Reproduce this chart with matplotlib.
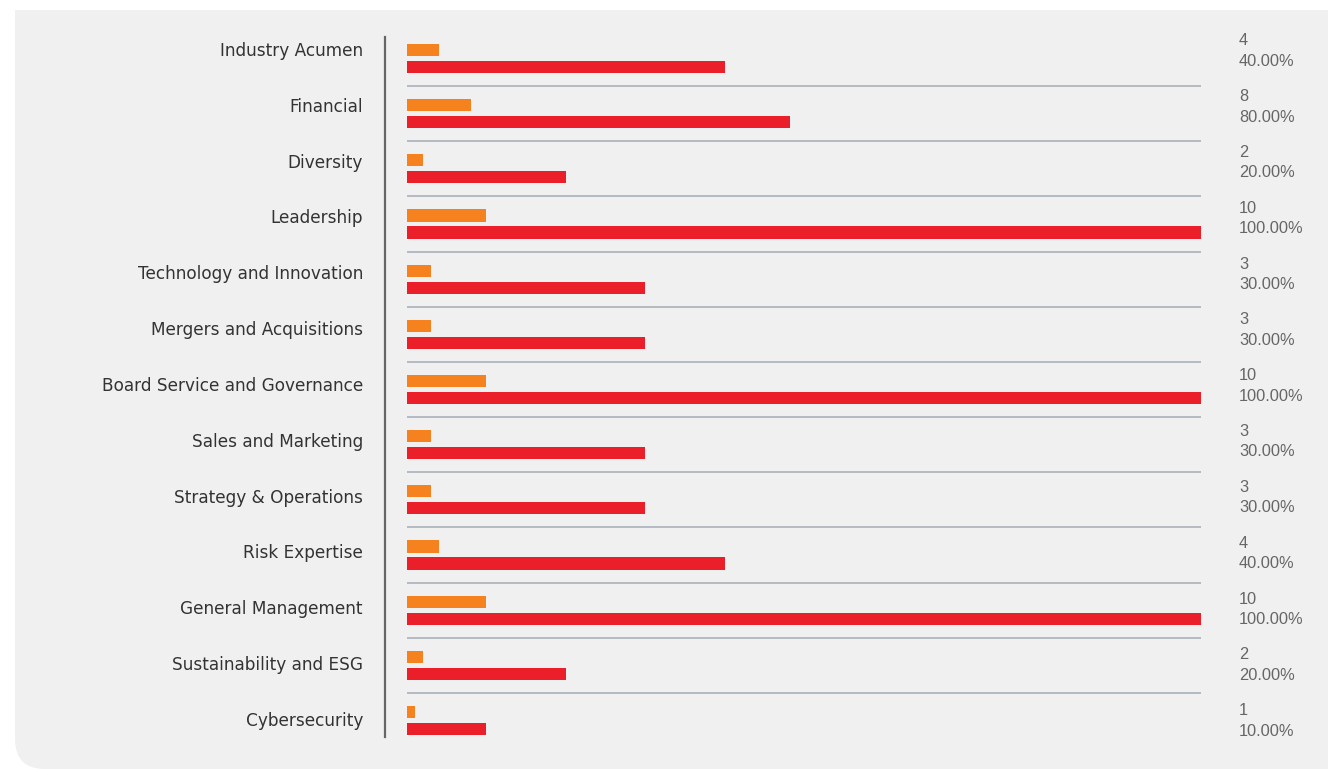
import matplotlib.pyplot as plt
from matplotlib.patches import FancyBboxPatch, Rectangle

# donnees
categories = ["Industry Acumen", "Financial", "Diversity", "Leadership",
              "Technology and Innovation", "Mergers and Acquisitions",
              "Board Service and Governance", "Sales and Marketing",
              "Strategy & Operations", "Risk Expertise", "General Management",
              "Sustainability and ESG", "Cybersecurity"]
counts = [4, 8, 2, 10, 3, 3, 10, 3, 3, 4, 10, 2, 1]
# longueur des barres rouges telle que dessinee (Financial est plus courte que son libelle)
pct_bars = [40, 48.2, 20, 100, 30, 30, 100, 30, 30, 40, 100, 20, 10]
pct_labels = [40, 80, 20, 100, 30, 30, 100, 30, 30, 40, 100, 20, 10]

W, H = 1328, 769
fig = plt.figure(figsize=(W / 100, H / 100), dpi=100)
fig.patch.set_facecolor("white")

# panneau gris avec coin arrondi en bas a gauche
bg = "#f0f0f0"
r = 30
fig.add_artist(FancyBboxPatch((15 / W, 0), 1400 / W, (H - 10) / H,
                              boxstyle="round,pad=0,rounding_size=%f" % (r / W),
                              mutation_aspect=W / H, transform=fig.transFigure,
                              facecolor=bg, edgecolor="none", zorder=0))
fig.add_artist(Rectangle((15 / W, 0.5), 1400 / W, (H / 2 - 10) / H,
                         transform=fig.transFigure, facecolor=bg,
                         edgecolor="none", zorder=0))

ax = fig.add_axes([407 / W, 1 - 737 / H, 794 / W, 700 / H])
ax.set_facecolor("none")

n = len(categories)
rows = list(range(n))
off = 0.154
h = 0.22
ax.barh([i - off for i in rows], counts, height=h, color="#f5821f")
ax.barh([i + off for i in rows], pct_bars, height=h, color="#ea1f2a")

# lignes de separation
for i in rows[:-1]:
    ax.axhline(i + 0.5, color="#a3acb6", lw=1.1, zorder=0)

ax.set_xlim(0, 100)
ax.set_ylim(12.30, -0.39)
ax.set_xticks([])
ax.set_yticks([])

for s in ["top", "right", "bottom"]:
    ax.spines[s].set_visible(False)
ax.spines["left"].set_position(("outward", 15.8))
ax.spines["left"].set_color("#666666")
ax.spines["left"].set_linewidth(1.6)

# etiquettes a gauche et valeurs a droite
label_y = [-0.136 + 1.012 * i for i in rows]
ytrans = ax.get_yaxis_transform()
for i in rows:
    ax.text(-44 / 794, label_y[i], categories[i], transform=ytrans,
            va="center", ha="right", fontsize=12.2, color="#333333",
            family="DejaVu Sans", clip_on=False)
    ax.text(104.8, label_y[i], "%d\n%.2f%%" % (counts[i], pct_labels[i]),
            va="center", ha="left", fontsize=11.8, color="#666666",
            family="Liberation Sans", linespacing=1.45, clip_on=False)

fig.savefig("out.png", dpi=100, facecolor=fig.get_facecolor())
